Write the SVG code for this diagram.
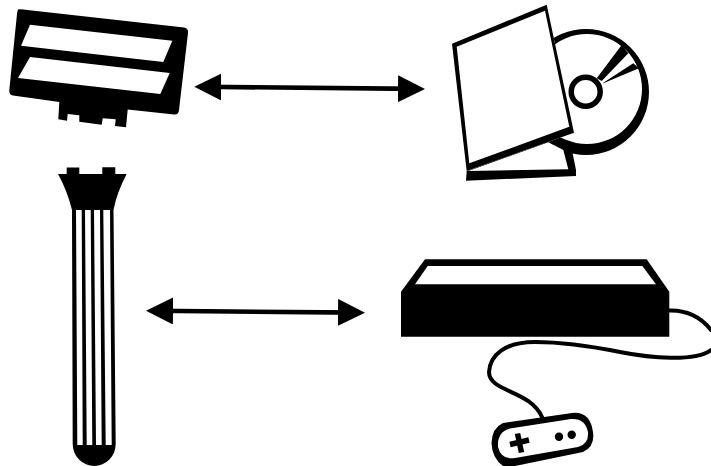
<svg xmlns="http://www.w3.org/2000/svg" width="711" height="466" viewBox="0 0 711 466">
<style>.k{fill:#000}.w{fill:#fff}.c{fill:none;stroke:#000;stroke-width:4;stroke-linecap:round}.l{stroke:#000;stroke-width:4.6}</style>
<defs><marker id="a" viewBox="0 0 27 27" refX="20" refY="13.500" markerUnits="userSpaceOnUse" markerWidth="27" markerHeight="27" orient="auto-start-reverse"><path class="k" d="M0 0L27 13.500L0 27Z"/></marker></defs>
<rect class="w" width="711" height="466"/>
<g id="cartridge">
<path class="k" d="M18 9.500Q18.500 9 23 9.500L184 27.500Q188.500 28 188 33L179 110Q178.500 115 174 114.500L127.700 109.500L126 127.300L115 126L115.700 119.300L102.700 118.300L101.700 124.700L79.300 121.700L79.300 115.300L67.700 114L67 120.700L58.300 119.300L59.300 102L13 95.500Q9 95 9.300 90L17 14Q17.500 10 18 9.500Z"/>
<path class="w" d="M30 24.700L172.300 40.700L163.300 62L21 45.700Z"/>
<path class="w" d="M30 57L169.700 73L160.300 94L18 78Z"/>
</g>
<g id="razor">
<path class="k" d="M58 174H66.700V167.500H79.300V174H102.300V167.300H115.300V174H126.700Q117 192 113.500 210L115.700 444A21.500 22 0 0 1 72.700 444L72 210Q67 190 58 174Z"/>
<path class="w" d="M76 210H81.700L82.700 445H77.300ZM85 210H90.700L92.300 445H86.700ZM94 210H100L101.700 445H96ZM103.300 210H110L111.700 445H105.700Z"/>
</g>
<g id="disc">
<path class="k" fill-rule="evenodd" d="M649 92A63 63 0 1 1 523 92A63 63 0 1 1 649 92ZM642 89A55 55 0 1 0 532 89A55 55 0 1 0 642 89Z"/>
<circle cx="585.700" cy="91.700" r="14.500" fill="#fff" stroke="#000" stroke-width="5.500"/>
<path class="k" d="M596.700 78.300L621.700 45L628.300 53.300L601.700 81ZM603.300 82.700L633.300 63.300L639 68.300L603.300 83.300Z"/>
</g>
<g id="sleeve">
<path class="k" d="M466.700 171L548 140L572.300 151.700L576 170V176L466 180.700Z"/>
<path class="w" d="M468.300 171L548.300 142.300L563.300 150L568.300 169.300Z"/>
<path class="w" d="M452 43.700L546.700 4.700L574 132.700L466.700 171Z"/>
<path class="k" fill-rule="evenodd" d="M452 43.700L546.700 4.700L574 132.700L466.700 171ZM456.700 46.700L469.300 163.300L569.300 126.700L545 10.700Z"/>
</g>
<g id="console">
<path class="k" d="M401 291.700L425 259.300H646.700L669.300 291.700V336.700H401Z"/>
<path class="w" d="M415 284.300L427.700 266H642.300L656 284.300Z"/>
<path class="c" d="M669 310.500C685 310 700 316 711 330M711 350C695 362 650 358 620 352C590 346 565 342 535 342C505 342 490 355 489 372C489 392 530 390 542 417"/>
</g>
<g id="gamepad">
<path class="k" d="M503 423L572 413Q590 411 593 432Q595 447 583 452L515 466H503Q492 458 491.500 443Q492 428 503 423Z"/>
<path class="w" d="M510 428.500L571 419Q585 418 588 432Q589 444 578 447L515 458Q501 460 498 447Q497 432 510 428.500Z"/>
<path class="c" style="stroke-width:5.500;stroke-linecap:butt" d="M517.500 433.500L521.500 452.500M510 444.500L529 440"/>
<circle class="k" cx="559" cy="436.700" r="4.200"/><circle class="k" cx="571.700" cy="434.700" r="4.200"/>
</g>
<g id="connectors">
<line class="l" x1="201.300" y1="86.800" x2="418" y2="88.900" marker-start="url(#a)" marker-end="url(#a)"/>
<line class="l" x1="153" y1="310.800" x2="358" y2="312.600" marker-start="url(#a)" marker-end="url(#a)"/>
</g>
</svg>
